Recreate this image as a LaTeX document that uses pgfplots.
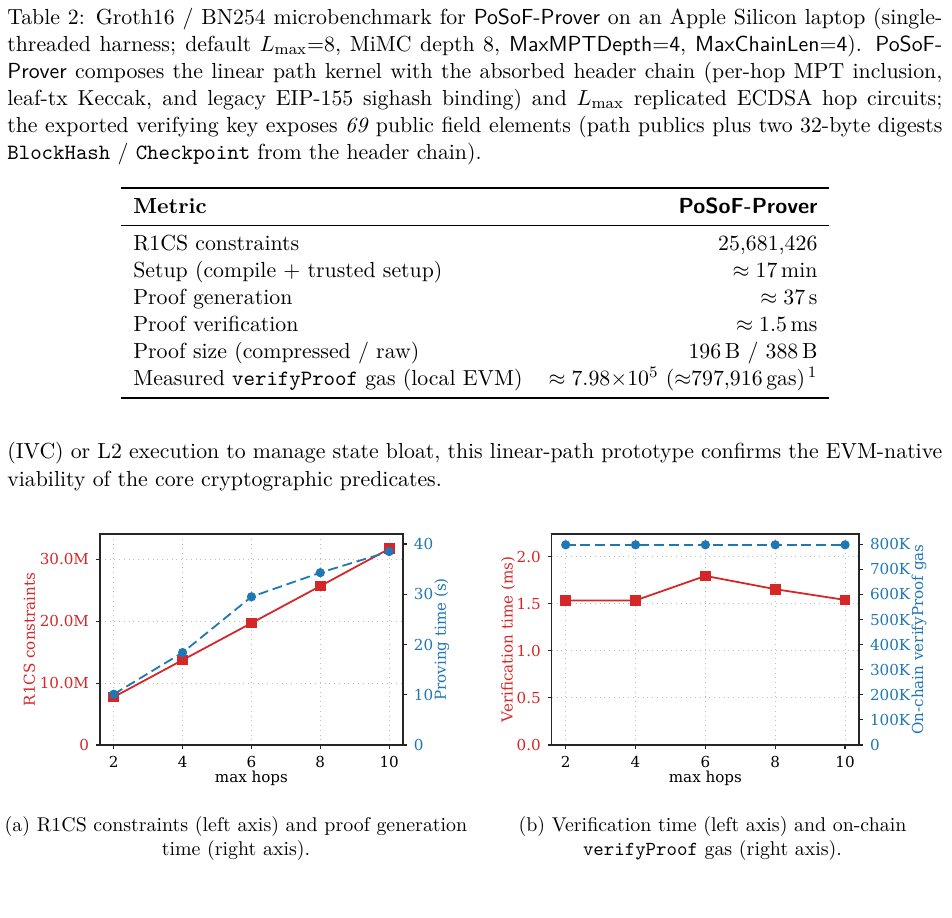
\documentclass[border=0pt]{standalone}
\usepackage{fontspec}
\usepackage{pgfplots}
\pgfplotsset{compat=1.18}
\usepackage{booktabs}

\newfontfamily\plotfont{DejaVu Serif}
\definecolor{tabred}{HTML}{D62728}
\definecolor{tabblue}{HTML}{1F77B4}
\definecolor{spine}{HTML}{262626}

\newcommand\bodyfont{\fontsize{10.95}{13.6}\selectfont}
\newcommand\smallfont{\fontsize{10}{12}\selectfont}
\newcommand\pf{\plotfont\fontsize{7.6}{9}\selectfont}

% shared look of both twin-axis panels
\pgfplotsset{
  panel/.style={
    scale only axis, width=152.2pt, height=106.0pt,
    xmin=1.6, xmax=10.4,
    tick align=outside, major tick length=2pt,
    axis line style={spine, line width=0.75pt},
    every tick/.style={spine, line width=0.6pt},
    ticklabel style={font=\pf},
    label style={font=\pf},
    scaled y ticks=false,
  },
  leftpanel/.style={
    panel,
    xtick={2,4,6,8,10}, xticklabels={2,4,6,8,10},
    xtick pos=bottom, ytick pos=left,
    grid=major, major grid style={dotted, black!25, line width=0.45pt},
    yticklabel style={text=tabred},
    ylabel style={text=tabred, anchor=center},
    xlabel={max hops},
    xlabel style={at={(axis description cs:0.5,-0.16)}, anchor=center},
  },
  rightpanel/.style={
    panel,
    axis x line=none, axis y line*=right,
    yticklabel style={text=tabblue},
    ylabel style={text=tabblue, anchor=center},
  },
  redline/.style={tabred, line width=0.9pt, mark=square*, mark size=2.25pt,
    mark options={fill=tabred, draw=tabred}},
  bluedash/.style={tabblue, line width=0.9pt, dash pattern=on 5pt off 2.4pt,
    mark=*, mark size=1.84pt, mark options={solid, fill=tabblue, draw=tabblue}},
}

\begin{document}
\begin{tikzpicture}
\useasboundingbox (0,0) rectangle (478.3pt,461.2pt);

\begin{scope}[x=0.50241pt, y=0.50241pt]
% table caption
\node[anchor=base west, inner sep=0, text width=469.75pt, align=justify, font=\bodyfont] at (7,893.7)
{Table~2: Groth16 / BN254 microbenchmark for \textsf{PoSoF-Prover} on an Apple Silicon laptop (single-\linebreak
threaded harness; default $L_{\max}$=8, MiMC depth 8, \textsf{MaxMPTDepth=4}, \textsf{MaxChainLen=4}). \textsf{PoSoF-}\linebreak
\textsf{Prover} composes the linear path kernel with the absorbed header chain (per-hop MPT inclusion,\linebreak
leaf-tx Keccak, and legacy EIP-155 sighash binding) and $L_{\max}$ replicated ECDSA hop circuits;\linebreak
the exported verifying key exposes \emph{69} public field elements (path publics plus two 32-byte digests\linebreak
\texttt{BlockHash} / \texttt{Checkpoint} from the header chain).};

% table
\node[anchor=north west, inner sep=0, font=\bodyfont] at (121,731.3) {%
\begin{tabular*}{355.7pt}{l@{\extracolsep{\fill}}r}
\toprule
\textbf{Metric} & \textsf{\bfseries PoSoF-Prover}\\
\midrule
R1CS constraints & 25,681,426\\
Setup (compile + trusted setup) & $\approx 17\,\mathrm{min}$\\
Proof generation & $\approx 37\,\mathrm{s}$\\
Proof verification & $\approx 1.5\,\mathrm{ms}$\\
Proof size (compressed / raw) & 196\,B / 388\,B\\
Measured \texttt{verifyProof} gas (local EVM) & $\approx 7.98{\times}10^{5}$ ($\approx$797,916\,gas)$^{\,1}$\\
\bottomrule
\end{tabular*}};

% running text
\node[anchor=base west, inner sep=0, text width=469.75pt, align=justify, font=\bodyfont] at (7,459)
{(IVC) or L2 execution to manage state bloat, this linear-path prototype confirms the EVM-native\linebreak
viability of the core cryptographic predicates.};

% sub-captions
\node[anchor=base, inner sep=0, text width=240pt, align=center, font=\smallfont] at (236,86)
{(a) R1CS constraints (left axis) and proof generation\\ time (right axis).};
\node[anchor=base, inner sep=0, text width=240pt, align=center, font=\smallfont] at (712.5,86)
{(b) Verification time (left axis) and on-chain\\ \texttt{verifyProof} gas (right axis).};
\end{scope}

% ---------- panel (a): constraints and proving time ----------
\begin{axis}[leftpanel, at={(50.24pt,86.92pt)}, anchor=south west,
  ymin=0, ymax=3.41e7,
  ytick={0,1e7,2e7,3e7}, yticklabels={0,10.0M,20.0M,30.0M},
  ylabel={R1CS constraints},
  ylabel style={at={(axis description cs:-0.233,0.5)}}]
\addplot[redline] coordinates {(2,7750000) (4,13730000) (6,19700000) (8,25681426) (10,31700000)};
\end{axis}
\begin{axis}[rightpanel, at={(50.24pt,86.92pt)}, anchor=south west,
  ymin=0, ymax=42,
  ytick={0,10,20,30,40}, yticklabels={0,10,20,30,40},
  ylabel={Proving time (s)},
  ylabel style={at={(axis description cs:1.1287,0.5)}}]
\addplot[bluedash] coordinates {(2,10.1) (4,18.4) (6,29.5) (8,34.3) (10,38.5)};
\end{axis}

% ---------- panel (b): verification time and on-chain gas ----------
\begin{axis}[leftpanel, at={(277.2pt,86.92pt)}, anchor=south west,
  width=154.4pt,
  ymin=0, ymax=2.24,
  ytick={0,0.5,1,1.5,2}, yticklabels={0.0,0.5,1.0,1.5,2.0},
  ylabel={Verification time (ms)},
  ylabel style={at={(axis description cs:-0.142,0.5)}}]
\addplot[redline] coordinates {(2,1.533) (4,1.535) (6,1.795) (8,1.654) (10,1.540)};
\end{axis}
\begin{axis}[rightpanel, at={(277.2pt,86.92pt)}, anchor=south west,
  width=154.4pt,
  ymin=0, ymax=841000,
  ytick={0,100000,200000,300000,400000,500000,600000,700000,800000},
  yticklabels={0,100K,200K,300K,400K,500K,600K,700K,800K},
  ylabel={On-chain verifyProof gas},
  ylabel style={at={(axis description cs:1.195,0.5)}}]
\addplot[bluedash] coordinates {(2,797916) (4,797916) (6,797916) (8,797916) (10,797916)};
\end{axis}
\end{tikzpicture}
\end{document}
